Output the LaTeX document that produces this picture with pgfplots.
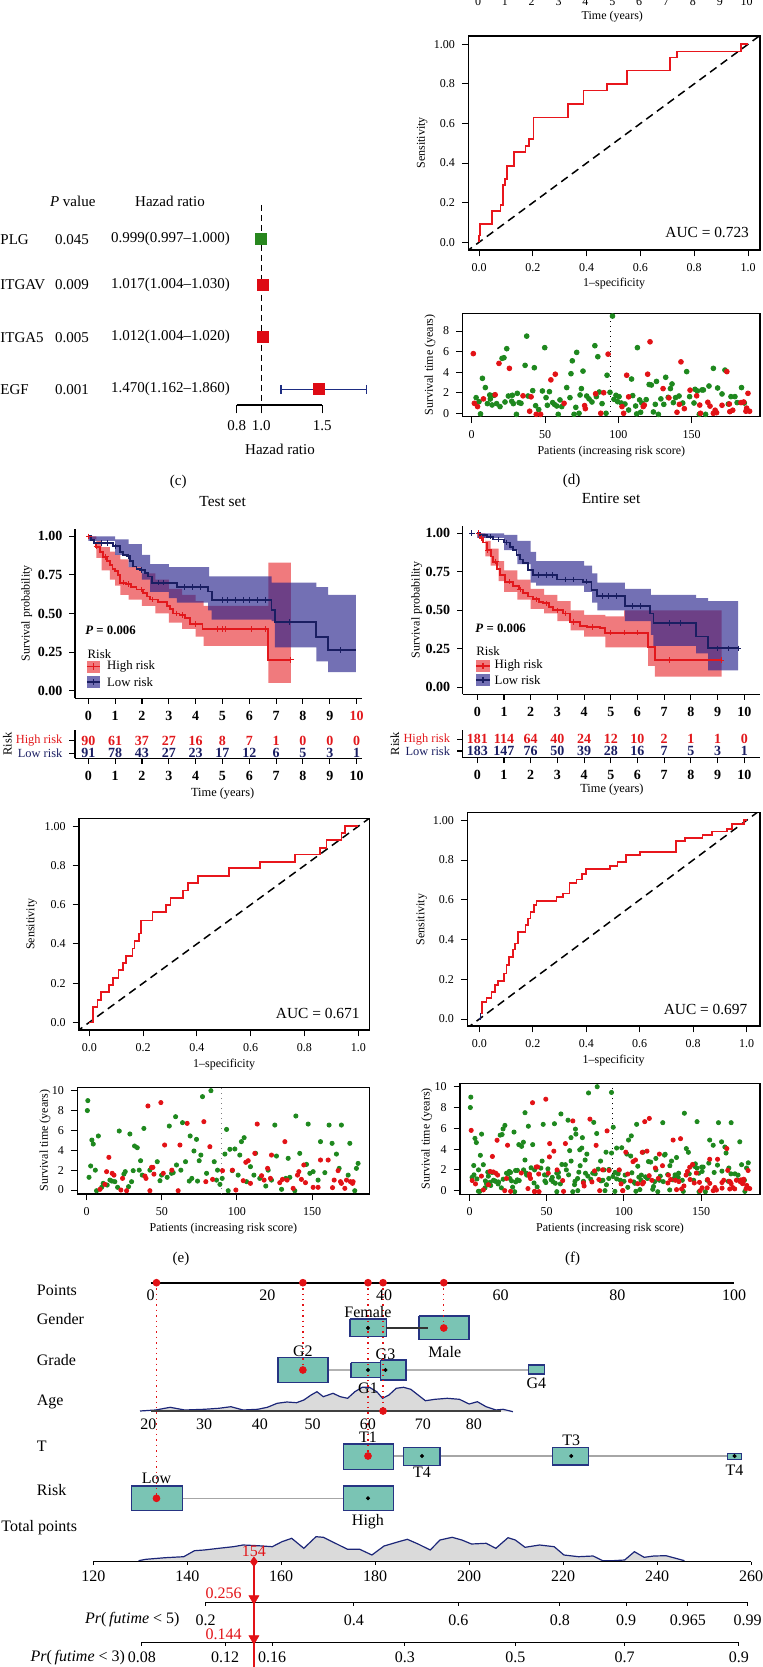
\documentclass[border=0pt]{standalone}
\usepackage{fontspec}
\setmainfont{Liberation Serif}
\usepackage{pgfplots}
\usepackage{pgfplotstable}
\pgfplotsset{compat=1.18}
\usepgfplotslibrary{fillbetween}

\definecolor{rocred}{RGB}{232,22,28}
\definecolor{kmred}{RGB}{226,24,28}
\definecolor{kmnavy}{RGB}{26,30,98}
\definecolor{bandred}{RGB}{232,50,55}
\definecolor{bandblue}{RGB}{40,35,140}
\definecolor{dred}{RGB}{226,18,22}
\definecolor{dgreen}{RGB}{30,136,30}
\definecolor{plggreen}{RGB}{40,135,30}
\definecolor{hrred}{RGB}{222,10,20}
\definecolor{hrnavy}{RGB}{30,45,130}
\definecolor{nomofill}{RGB}{122,196,180}
\definecolor{nomoedge}{RGB}{38,52,130}
\definecolor{densfill}{RGB}{218,218,218}
\definecolor{densline}{RGB}{28,38,120}

\newcommand\fs[1]{\fontsize{#1}{#1}\selectfont}
\newcommand\pxnode[4][]{\node[inner sep=0pt,#1] at ({#2*0.5pt},{(1667-#3)*0.5pt}) {#4};}

% scatter data: patient rank p, survival time t (years)
\pgfplotstableread{
p t
1.1 5.8
1.8 0.97
4 0.65
8 1.4
16 1.8
18.6 4.85
25.7 4.37
35 1.7
39.5 0.2
40.5 1.6
44 -0.1
47 -0.1
54 3.25
57 3.8
63 0.97
77 0.75
77.5 0.45
84.5 1.9
88 0
90 2.0
93 5.75
102.5 0.65
103.6 0
105.7 3.7
107 1.6
117 0.65
117.7 0.8
120 3.8
121.6 6.95
130.5 2.4
134.5 1.5
140 0.1
141.6 0.87
142.7 5.0
145 0.45
148.9 2.25
153.4 1.7
155.5 0.8
156 0
161 1.07
162.5 0.7
164.8 0
166 0.3
167 0.06
170.7 0.78
174 4.05
175.7 0.9
176 0.16
178 0.3
183.6 1.04
185.5 1.1
187 0.2
187.5 0.5
188.4 1.94
189.5 0.2
}\dR
\pgfplotstableread{
p t
3 1.52
5 1.13
6 -0.06
7.3 3.4
9.3 2.5
10.7 0.94
12.3 1.78
12.7 1.39
13.9 0.81
15.2 1.75
17 0.94
19.3 0.65
20.7 5.34
22 5.4
22.7 1.1
23.9 6.28
25 1.68
27.3 1.17
27.7 1.75
28.4 0.94
30.5 -0.1
31.1 1.94
32.3 1.04
33.6 0.97
36.4 4.66
37.5 7.5
38.4 1.68
41.6 2.2
42.7 4.43
43.6 0.74
45.7 0.36
48.2 2.17
49.8 6.38
50.7 1.52
51.6 0.78
53 2.1
55.2 1.04
56.4 0.87
58 0.71
59 -0.1
60.2 1.3
61.4 0.65
64.8 2.5
67 1.52
67.7 3.85
68.6 5.1
69.8 -0.1
71 0.58
71.6 5.92
73.2 0
73.9 1.78
74.8 2.4
75.9 4.1
78.4 1.68
80 1.4
82 1.1
84 6.57
85 1.62
86 5.5
87 2.07
88.9 0.94
91.6 0
92.3 3.7
94.3 2.04
96 9.45
97 1.36
98.4 1.75
99.5 1.13
100.5 1.62
102 1.0
104.5 0.9
107 0.32
109 3.33
109.8 1.72
111.8 0.71
112.5 -0.06
113 6.38
114.5 1.3
115.2 0.1
116 1.0
119 1.33
121 2.8
122.5 2.75
123.9 0.13
125.2 0.87
126 3.1
127.3 -0.1
129 1.4
131 0.87
132.3 3.5
134 1.55
135.5 2.4
136.6 2.85
137.5 1.04
139 1.52
141.4 1.68
143.9 1.0
146.6 4.05
148.6 1.62
151.6 1.0
152.3 2.33
153.9 2.17
155.2 -0.1
157 2.27
158 2.27
159.5 -0.1
161.8 2.65
164.8 4.37
167.7 2.46
170.7 1.88
172.7 4.2
175 0.9
176.8 1.62
179.5 1.62
181 1.04
184 2.5
185.9 1.0
}\dG
\pgfplotstableread{
p t
8.9 0.07
12.2 0.57
13.3 1.85
14.8 3.29
17 1.68
18.2 1.5
22.8 0
23.9 1.17
26.6 -0.07
38.8 1.41
39.5 1.17
40.8 8.46
42.1 -0.07
43.2 2.28
44.1 2.28
44.8 1.6
49.4 8.8
51 1.68
51.9 4.53
56.7 2.0
60.9 -0.07
62.1 4.53
66.9 6.71
78 6.88
79.3 0.84
82 4.36
83.8 1.07
90.4 1.95
97 2.0
99.3 0
104.2 0.94
105.9 2.79
107.5 2.95
109 0.67
111.9 3.69
113.5 6.64
116.4 1.44
118.1 1.0
120.4 2.18
122.3 1.17
123 3.52
128.5 0.74
130.3 1.07
131.9 4.87
133.4 1.0
137.4 0.17
140.3 1.5
141.2 1.85
142.9 1.07
144.5 2.52
145.6 0.74
150.7 0.27
154 0.27
155.6 3.02
160.7 3.02
163.6 0.24
164.7 1.0
167.3 1.95
168.9 0.84
169.5 0.67
171.8 0.17
172.9 1.0
175.5 0.84
176.9 0.67
177.3 0.84
}\eR
\pgfplotstableread{
p t
0.5 8.0
0.8 9.0
1.6 1.28
2.7 2.42
3.5 5.03
4.4 4.63
5.8 2.0
6.6 -0.07
7.8 5.44
10 0.27
11 0.67
13.7 0.5
15.5 1.0
16.8 0.9
18.8 0.84
20.6 0.27
21.7 5.94
24.8 1.6
25.7 1.85
27.9 0.34
28.8 5.64
29.9 0.84
31 1.95
31.9 4.43
33.7 4.26
35 2.0
35.9 2.95
37 1.5
38.1 6.2
42.1 2.0
47 2.85
48.8 0.94
49.9 1.5
53.6 1.28
55 6.44
56.5 1.68
57.6 1.75
59.2 7.38
59.8 2.52
62.7 2.0
63.8 6.78
65.8 2.85
68.3 0.9
68.9 5.44
70 1.17
71.4 3.93
73.1 5.1
73.8 0.9
74.9 2.95
76 3.52
77.1 9.4
79.8 1.68
82.7 10
84.9 2.85
86.4 1.0
87.1 2.0
88.7 0.57
90.2 1.17
92 3.62
93.1 6.1
94.2 -0.07
95.3 4.1
96.9 1.95
98.6 4.13
100.8 1.5
101.9 3.52
103 4.87
104.8 5.27
106.4 0.84
109 2.35
111.3 1.5
112.4 3.7
115.2 1.17
119.2 0.4
120.8 2.0
123 1.0
125.2 6.54
126.3 3.42
129.7 0.07
132.5 1.17
134.1 3.19
135.2 1.28
138.5 -0.07
139.2 7.45
141.8 3.69
146.3 2.58
147.4 6.64
148.5 1.68
150.7 1.85
154 1.0
155.6 4.87
158.5 1.75
161.3 6.54
163.3 4.7
166.2 3.62
168 2.18
169.5 6.54
174 1.5
175.1 4.7
178.4 -0.07
179.5 2.18
180.6 2.68
}\eG

\pgfplotsset{
  pxat/.style 2 args={at={({#1*0.5pt},{(1667-#2)*0.5pt})}},
  every axis/.append style={scale only axis, anchor=south west,
    /pgf/number format/assume math mode=true},
  rbase/.style={tick align=outside, major tick length=3.2pt,
    axis line style={line width=0.7pt},
    tick style={black, line width=0.45pt},
    xtick pos=bottom, ytick pos=left,
    tick label style={font=\fs{6}}, label style={font=\fs{6}},
    xlabel style={anchor=center}, ylabel style={anchor=center}},
  roc/.style={rbase,
    xtick={0,0.2,0.4,0.6,0.8,1}, xticklabels={0.0,0.2,0.4,0.6,0.8,1.0},
    ytick={0,0.2,0.4,0.6,0.8,1}, yticklabels={0.0,0.2,0.4,0.6,0.8,1.00},
    xlabel={1--specificity}, ylabel={Sensitivity}},
  scat/.style={rbase, xtick={0,50,100,150}, ytick={0,2,4,6,8,10},
    xlabel={Patients (increasing risk score)}, ylabel={Survival time (years)}},
  km/.style={axis lines=left, axis line style={-, line width=0.55pt},
    tick align=outside, major tick length=2.8pt, tick style={black, line width=0.55pt},
    xtick={0,...,10}, ytick={0,0.25,0.5,0.75,1},
    yticklabels={0.00,0.25,0.50,0.75,1.00},
    tick label style={font=\fs{7}\bfseries},
    ylabel={Survival probability}, ylabel style={font=\fs{6}, anchor=center}, clip=false},
  kmtab/.style={axis lines=left, axis line style={-, line width=0.55pt},
    tick align=outside, major tick length=2.8pt, tick style={black, line width=0.55pt},
    xtick={0,...,10}, ymin=0, ymax=1,
    xticklabel style={font=\fs{7}\bfseries}, yticklabel style={font=\fs{6.2}},
    xlabel={Time (years)}, ylabel={Risk}, label style={font=\fs{6.2}},
    xlabel style={anchor=center}, ylabel style={anchor=center}, clip=false},
  rnum/.style={draw=none, nodes near coords, point meta=explicit symbolic,
    every node near coord/.append style={anchor=center, font=\fs{7}\bfseries, text=#1}},
  cens/.style={only marks, mark=+, mark size=1.4pt, line width=0.5pt, #1},
  nbox/.style={fill=nomofill, draw=nomoedge, line width=0.6pt},
  reddot/.style={only marks, mark=*, mark size=1.7pt, dred},
  blkdot/.style={only marks, mark=*, mark size=0.8pt, black},
}

\begin{document}
\begin{tikzpicture}

% ---- cut-off bottom of panel (b)
\begin{axis}[pxat={478}{0}, width=134.35pt, height=4pt, xmin=0, xmax=10, ymin=0, ymax=1,
  hide y axis, axis x line*=bottom, x axis line style={draw=none}, xtick={0,...,10},
  major tick length=0pt,
  xticklabel style={font=\fs{6}, anchor=base, inner sep=0pt, yshift=-2.6pt},
  xlabel={Time (years)},
  xlabel style={font=\fs{6}, at={(axis description cs:0.5,0)}, anchor=center, yshift=-8.4pt}]
\addplot[draw=none] coordinates {(0,0.5)(10,0.5)};
\end{axis}

% ---- (c) forest plot
\begin{axis}[pxat={236.7}{405}, width=42.8pt, height=102.5pt,
  xmin=0.8, xmax=1.5, ymin=-405, ymax=-200, clip=false,
  hide y axis, axis x line*=bottom, x axis line style={-, line width=0.6pt},
  xtick={0.8,1.0,1.5}, xticklabels={0.8,1.0,1.5},
  tick align=outside, major tick length=4.2pt, tick style={black, line width=0.6pt},
  xticklabel style={font=\fs{7.5}},
  xlabel={Hazad ratio},
  xlabel style={font=\fs{7.5}, at={(axis description cs:0.506,-0.2146)}, anchor=center}]
\addplot[black, line width=0.5pt, dash pattern=on 3pt off 2pt] coordinates {(1,-205)(1,-405)};
\addplot[hrnavy, line width=0.7pt] coordinates {(1.162,-389.3)(1.86,-389.3)};
\addplot[hrnavy, line width=0.7pt] coordinates {(1.162,-385)(1.162,-393.6)};
\addplot[hrnavy, line width=0.7pt] coordinates {(1.86,-385)(1.86,-393.6)};
\addplot[only marks, mark=square*, mark size=2.7pt, plggreen] coordinates {(0.999,-239.3)};
\addplot[only marks, mark=square*, mark size=2.7pt, hrred]
  coordinates {(1.017,-285)(1.012,-337.3)(1.47,-389.3)};
\begin{scope}[font=\fs{7.5}]
\node at (axis cs:-0.541,-201) {\textit{P} value};
\node at (axis cs:0.2546,-201) {Hazad ratio};
\node[anchor=west, inner sep=0pt] at (axis cs:-1.1354,-239.3) {PLG};
\node[anchor=west, inner sep=0pt] at (axis cs:-1.1354,-285) {ITGAV};
\node[anchor=west, inner sep=0pt] at (axis cs:-1.1354,-337.3) {ITGA5};
\node[anchor=west, inner sep=0pt] at (axis cs:-1.1354,-389.3) {EGF};
\node at (axis cs:-0.5467,-239.3) {0.045};
\node at (axis cs:-0.5467,-285) {0.009};
\node at (axis cs:-0.5467,-337.3) {0.005};
\node at (axis cs:-0.5467,-389.3) {0.001};
\node at (axis cs:0.2587,-239.3) {0.999(0.997--1.000)};
\node at (axis cs:0.2587,-285) {1.017(1.004--1.030)};
\node at (axis cs:0.2587,-337.3) {1.012(1.004--1.020)};
\node at (axis cs:0.2587,-389.3) {1.470(1.162--1.860)};
\end{scope}
\end{axis}

% ---- (d) ROC
\begin{axis}[roc, pxat={468.3}{250}, width=145.85pt, height=107pt,
  xmin=-0.0398, xmax=1.0446, ymin=-0.0389, ymax=1.042,
  xlabel style={at={(axis description cs:0.5,-0.1556)}},
  ylabel style={at={(axis description cs:-0.1577,0.5)}}]
\addplot[black, line width=0.75pt, dash pattern=on 4pt off 2.6pt] coordinates {(-0.05,-0.05)(1.06,1.06)};
\addplot[rocred, line width=0.85pt] coordinates {(0,0)(0,0.034)(0.004,0.034)(0.004,0.093)(0.047,0.093)(0.047,0.158)(0.08,0.158)(0.08,0.19)(0.088,0.19)(0.088,0.288)(0.097,0.288)(0.097,0.32)(0.105,0.32)(0.105,0.387)(0.13,0.387)(0.13,0.455)(0.173,0.455)(0.173,0.488)(0.186,0.488)(0.186,0.52)(0.203,0.52)(0.203,0.63)(0.33,0.63)(0.33,0.697)(0.388,0.697)(0.388,0.766)(0.475,0.766)(0.475,0.8)(0.551,0.8)(0.551,0.867)(0.71,0.867)(0.71,0.933)(0.735,0.933)(0.735,0.963)(0.973,0.963)(0.973,1)(1,1)};
\node[anchor=east, font=\fs{7.7}, inner sep=0pt] at (axis cs:1.005,0.052) {AUC = 0.723};
\end{axis}

% ---- (d) scatter
\begin{axis}[scat, pxat={462.7}{416.7}, width=148.65pt, height=51.7pt,
  xmin=-6.14, xmax=196.6, ymin=-0.33, ymax=9.72,
  xlabel style={at={(axis description cs:0.5,-0.3385)}},
  ylabel style={at={(axis description cs:-0.11,0.5)}}]
\addplot[black, dotted, line width=0.5pt] coordinates {(94.5,-0.33)(94.5,9.72)};
\addplot[only marks, mark=*, mark size=1.2pt, dgreen] table[x=p,y=t] {\dG};
\addplot[only marks, mark=*, mark size=1.2pt, dred] table[x=p,y=t] {\dR};
\end{axis}

% ---- Test set KM
\begin{axis}[km, pxat={75}{698.3}, width=143.35pt, height=84.85pt,
  xmin=-0.4955, xmax=10.19, ymin=-0.0494, ymax=1.05,
  xticklabels={0,1,2,3,4,5,6,7,8,9,\textcolor{kmred}{10}},
  title={Test set}, title style={at={(axis description cs:0.515,1.09)}, anchor=center, font=\fs{7.7}},
  ylabel style={at={(axis description cs:-0.1685,0.5)}}]
\addplot[name path=tHu, draw=none, const plot] coordinates {(0,1)(0.3,0.97)(0.5,0.93)(0.8,0.9)(1,0.88)(1.2,0.85)(1.5,0.80)(2,0.76)(2.5,0.72)(3,0.66)(3.5,0.62)(4,0.58)(4.3,0.55)(6.71,0.83)(7.55,0.83)};
\addplot[name path=tHl, draw=none, const plot] coordinates {(0,0.98)(0.3,0.86)(0.5,0.78)(0.8,0.72)(1,0.68)(1.2,0.62)(1.5,0.59)(2,0.55)(2.5,0.50)(3,0.44)(3.5,0.40)(4,0.35)(4.3,0.29)(6.71,0.05)(7.55,0.05)};
\addplot[bandred, fill opacity=0.65] fill between[of=tHu and tHl];
\addplot[name path=tLu, draw=none, const plot] coordinates {(0,1)(1,0.98)(1.5,0.95)(2,0.88)(2.3,0.82)(3,0.80)(4.5,0.74)(6.83,0.70)(8.5,0.67)(8.94,0.62)(9.97,0.62)};
\addplot[name path=tLl, draw=none, const plot] coordinates {(0,0.97)(1,0.88)(1.5,0.80)(2,0.72)(2.3,0.64)(3,0.60)(3.3,0.57)(4.47,0.52)(4.6,0.46)(6.83,0.45)(6.95,0.28)(8.5,0.19)(8.94,0.12)(9.97,0.12)};
\addplot[bandblue, fill opacity=0.65] fill between[of=tLu and tLl];
\addplot[kmred, line width=0.9pt, const plot] coordinates {(0,1.0)(0.1,0.978)(0.2,0.956)(0.3,0.933)(0.45,0.9)(0.55,0.867)(0.7,0.84)(0.8,0.815)(0.9,0.79)(1.0,0.773)(1.1,0.75)(1.18,0.70)(1.4,0.69)(1.6,0.67)(1.8,0.655)(2.05,0.632)(2.2,0.61)(2.3,0.59)(2.6,0.575)(2.92,0.55)(3.05,0.53)(3.17,0.50)(3.4,0.49)(3.6,0.47)(3.79,0.43)(4.26,0.40)(6.71,0.20)(7.55,0.20)};
\addplot[kmnavy, line width=0.9pt, const plot] coordinates {(0,1.0)(0.1,0.978)(0.2,0.957)(0.93,0.935)(1.18,0.90)(1.3,0.88)(1.43,0.87)(1.55,0.84)(1.68,0.805)(1.8,0.79)(1.93,0.78)(2.1,0.76)(2.24,0.74)(2.36,0.70)(3.3,0.67)(4.47,0.643)(4.6,0.589)(6.83,0.524)(6.95,0.444)(8.5,0.35)(8.94,0.264)(9.97,0.264)};
\addplot[cens=kmred] coordinates {(0.02,1.0)(0.3,0.933)(0.65,0.867)(1.3,0.70)(1.5,0.69)(2.0,0.655)(2.4,0.59)(3.3,0.50)(3.5,0.49)(4.0,0.43)(4.8,0.40)(5.0,0.40)(5.1,0.40)(6.1,0.40)(6.6,0.40)(7.55,0.20)};
\addplot[cens=kmnavy] coordinates {(0.5,0.957)(0.7,0.957)(1.0,0.935)(1.5,0.87)(2.0,0.78)(2.6,0.70)(2.8,0.70)(3.6,0.67)(3.9,0.67)(4.2,0.67)(5.0,0.589)(5.2,0.589)(5.5,0.589)(5.8,0.589)(6.0,0.589)(6.3,0.589)(6.6,0.589)(7.5,0.444)(9.4,0.264)};
\addplot[fill=bandred, fill opacity=0.65, draw=none] coordinates {(-0.05,0.117)(0.436,0.117)(0.436,0.195)(-0.05,0.195)};
\addplot[kmred, line width=0.9pt, mark=+, mark size=1.6pt, mark indices={2}] coordinates {(-0.05,0.156)(0.193,0.156)(0.436,0.156)};
\addplot[fill=bandblue, fill opacity=0.65, draw=none] coordinates {(-0.05,0.0155)(0.436,0.0155)(0.436,0.0935)(-0.05,0.0935)};
\addplot[kmnavy, line width=0.9pt, mark=+, mark size=1.6pt, mark indices={2}] coordinates {(-0.05,0.0545)(0.193,0.0545)(0.436,0.0545)};
\node[anchor=west, inner sep=0pt, font=\fs{6.4}\bfseries] at (axis cs:-0.123,0.388) {\textit{P} = 0.006};
\node[anchor=west, inner sep=0pt, font=\fs{6.4}] at (axis cs:-0.037,0.238) {Risk};
\node[anchor=west, inner sep=0pt, font=\fs{6.4}] at (axis cs:0.686,0.156) {High risk};
\node[anchor=west, inner sep=0pt, font=\fs{6.4}] at (axis cs:0.686,0.0545) {Low risk};
\end{axis}

% ---- Test set risk table
\begin{axis}[kmtab, pxat={75}{758.3}, width=143.35pt, height=14.15pt,
  xmin=-0.4955, xmax=10.19,
  ytick={0.177,0.622}, yticklabels={\textcolor{kmnavy}{Low risk},\textcolor{kmred}{High risk}},
  xlabel style={at={(axis description cs:0.515,-1.261)}},
  ylabel style={at={(axis description cs:-0.236,0.5)}}]
\addplot[rnum=kmred] coordinates {(0,0.622)[90] (1,0.622)[61] (2,0.622)[37] (3,0.622)[27] (4,0.622)[16] (5,0.622)[8] (6,0.622)[7] (7,0.622)[1] (8,0.622)[0] (9,0.622)[0] (10,0.622)[0]};
\addplot[rnum=kmnavy] coordinates {(0,0.177)[91] (1,0.177)[78] (2,0.177)[43] (3,0.177)[27] (4,0.177)[23] (5,0.177)[17] (6,0.177)[12] (7,0.177)[6] (8,0.177)[5] (9,0.177)[3] (10,0.177)[1]};
\end{axis}

% ---- Entire set KM
\begin{axis}[km, pxat={462.7}{694.3}, width=148.65pt, height=84.35pt,
  xmin=-0.547, xmax=10.59, ymin=-0.045, ymax=1.05,
  title={Entire set}, title style={at={(axis description cs:0.499,1.0925)}, anchor=center, font=\fs{7.7}},
  ylabel style={at={(axis description cs:-0.1547,0.5)}}]
\addplot[name path=eHu, draw=none, const plot] coordinates {(0,1)(0.3,0.95)(0.5,0.90)(0.8,0.82)(1,0.76)(1.5,0.70)(2,0.64)(2.5,0.60)(3,0.56)(3.5,0.50)(4,0.47)(4.8,0.46)(5.5,0.50)(9.15,0.50)};
\addplot[name path=eHl, draw=none, const plot] coordinates {(0,0.97)(0.3,0.85)(0.5,0.79)(0.8,0.69)(1,0.62)(1.5,0.57)(2,0.51)(2.5,0.48)(3,0.43)(3.5,0.37)(4,0.33)(4.8,0.26)(6.4,0.14)(6.65,0.07)(9.15,0.07)};
\addplot[bandred, fill opacity=0.65] fill between[of=eHu and eHl];
\addplot[name path=eLu, draw=none, const plot] coordinates {(0,1)(1,0.99)(1.5,0.95)(2,0.88)(2.2,0.82)(4,0.79)(4.3,0.74)(4.5,0.68)(5.53,0.64)(6.5,0.60)(8.2,0.58)(8.65,0.56)(9.77,0.56)};
\addplot[name path=eLl, draw=none, const plot] coordinates {(0,0.97)(1,0.89)(1.5,0.80)(2,0.68)(2.2,0.66)(4,0.62)(4.3,0.55)(4.5,0.50)(5.53,0.43)(6.5,0.34)(6.6,0.27)(8.2,0.22)(8.65,0.11)(9.77,0.11)};
\addplot[bandblue, fill opacity=0.65] fill between[of=eLu and eLl];
\addplot[kmred, line width=0.9pt, const plot] coordinates {(0,1)(0.1,0.97)(0.2,0.94)(0.35,0.89)(0.5,0.85)(0.6,0.816)(0.75,0.77)(0.85,0.73)(1.04,0.686)(1.35,0.66)(1.55,0.635)(1.72,0.61)(1.9,0.59)(2.1,0.571)(2.3,0.555)(2.47,0.545)(2.7,0.52)(2.85,0.50)(3.22,0.48)(3.47,0.426)(3.85,0.398)(4.1,0.39)(4.6,0.383)(4.78,0.355)(6.4,0.264)(6.65,0.177)(9.15,0.177)};
\addplot[kmnavy, line width=0.9pt, const plot] coordinates {(0,1)(0.1,0.99)(0.35,0.978)(0.6,0.96)(1,0.94)(1.22,0.913)(1.35,0.89)(1.47,0.86)(1.6,0.83)(1.72,0.805)(1.9,0.76)(2.1,0.73)(3.0,0.70)(3.97,0.686)(4.28,0.632)(4.47,0.593)(5.53,0.528)(6.47,0.48)(6.6,0.416)(8.2,0.33)(8.65,0.253)(9.77,0.253)};
\addplot[cens=kmred] coordinates {(0.05,1.0)(0.15,0.97)(0.4,0.89)(0.7,0.816)(1.2,0.686)(1.6,0.635)(2.2,0.571)(2.6,0.545)(3.0,0.50)(3.3,0.48)(3.6,0.426)(4.3,0.39)(5.0,0.355)(5.5,0.355)(6.0,0.355)(7.2,0.177)(9.15,0.177)};
\addplot[cens=kmnavy] coordinates {(-0.2,1.0)(0.5,0.978)(0.8,0.96)(1.1,0.94)(2.3,0.73)(2.6,0.73)(2.8,0.73)(3.3,0.70)(3.6,0.70)(4.1,0.686)(4.7,0.593)(4.9,0.593)(5.2,0.593)(5.8,0.528)(6.1,0.528)(7.2,0.416)(7.6,0.416)(9.0,0.253)(9.4,0.253)(9.77,0.253)};
\addplot[fill=bandred, fill opacity=0.65, draw=none] coordinates {(-0.049,0.101)(0.475,0.101)(0.475,0.179)(-0.049,0.179)};
\addplot[kmred, line width=0.9pt, mark=+, mark size=1.6pt, mark indices={2}] coordinates {(-0.049,0.14)(0.213,0.14)(0.475,0.14)};
\addplot[fill=bandblue, fill opacity=0.65, draw=none] coordinates {(-0.049,0.008)(0.475,0.008)(0.475,0.086)(-0.049,0.086)};
\addplot[kmnavy, line width=0.9pt, mark=+, mark size=1.6pt, mark indices={2}] coordinates {(-0.049,0.047)(0.213,0.047)(0.475,0.047)};
\node[anchor=west, inner sep=0pt, font=\fs{6.4}\bfseries] at (axis cs:-0.086,0.383) {\textit{P} = 0.006};
\node[anchor=west, inner sep=0pt, font=\fs{6.4}] at (axis cs:-0.049,0.238) {Risk};
\node[anchor=west, inner sep=0pt, font=\fs{6.4}] at (axis cs:0.637,0.14) {High risk};
\node[anchor=west, inner sep=0pt, font=\fs{6.4}] at (axis cs:0.637,0.047) {Low risk};
\end{axis}

% ---- Entire set risk table
\begin{axis}[kmtab, pxat={462.7}{757.7}, width=148.65pt, height=13.85pt,
  xmin=-0.547, xmax=10.59,
  ytick={0.242,0.664}, yticklabels={\textcolor{kmnavy}{Low risk},\textcolor{kmred}{High risk}},
  xlabel style={at={(axis description cs:0.502,-1.166)}},
  ylabel style={at={(axis description cs:-0.2277,0.5)}}]
\addplot[rnum=kmred] coordinates {(0,0.664)[181] (1,0.664)[114] (2,0.664)[64] (3,0.664)[40] (4,0.664)[24] (5,0.664)[12] (6,0.664)[10] (7,0.664)[2] (8,0.664)[1] (9,0.664)[1] (10,0.664)[0]};
\addplot[rnum=kmnavy] coordinates {(0,0.242)[183] (1,0.242)[147] (2,0.242)[76] (3,0.242)[50] (4,0.242)[39] (5,0.242)[28] (6,0.242)[16] (7,0.242)[7] (8,0.242)[5] (9,0.242)[3] (10,0.242)[1]};
\end{axis}

% ---- (e) ROC
\begin{axis}[roc, pxat={79}{1030}, width=145.15pt, height=105.85pt,
  xmin=-0.0383, xmax=1.041, ymin=-0.039, ymax=1.041,
  xlabel style={at={(axis description cs:0.5,-0.162)}},
  ylabel style={at={(axis description cs:-0.163,0.5)}}]
\addplot[black, line width=0.75pt, dash pattern=on 4pt off 2.6pt] coordinates {(-0.05,-0.05)(1.06,1.06)};
\addplot[rocred, line width=0.85pt] coordinates {(0,0)(0.015,0)(0.015,0.08)(0.030,0.08)(0.030,0.114)(0.043,0.114)(0.043,0.156)(0.073,0.156)(0.073,0.19)(0.089,0.19)(0.089,0.227)(0.109,0.227)(0.109,0.266)(0.124,0.266)(0.124,0.303)(0.136,0.303)(0.136,0.337)(0.161,0.337)(0.161,0.376)(0.168,0.376)(0.168,0.414)(0.186,0.414)(0.186,0.453)(0.191,0.453)(0.191,0.52)(0.235,0.52)(0.235,0.563)(0.284,0.563)(0.284,0.6)(0.302,0.6)(0.302,0.634)(0.349,0.634)(0.349,0.673)(0.368,0.673)(0.368,0.71)(0.403,0.71)(0.403,0.746)(0.52,0.746)(0.52,0.786)(0.635,0.786)(0.635,0.817)(0.765,0.817)(0.765,0.857)(0.857,0.857)(0.857,0.89)(0.882,0.89)(0.882,0.93)(0.938,0.93)(0.938,0.967)(0.951,0.967)(0.951,1)(1,1)};
\node[anchor=east, font=\fs{7.7}, inner sep=0pt] at (axis cs:1.006,0.046) {AUC = 0.671};
\end{axis}

% ---- (f) ROC
\begin{axis}[roc, pxat={467.3}{1026}, width=146.35pt, height=106.65pt,
  xmin=-0.0449, xmax=1.0498, ymin=-0.035, ymax=1.038,
  xlabel style={at={(axis description cs:0.5,-0.1627)}},
  ylabel style={at={(axis description cs:-0.1558,0.5)}}]
\addplot[black, line width=0.75pt, dash pattern=on 4pt off 2.6pt] coordinates {(-0.05,-0.05)(1.06,1.06)};
\addplot[kmnavy, line width=0.85pt] coordinates {(0,0)(0.005,0)(0.005,0.03)};
\addplot[rocred, line width=0.85pt] coordinates {(0.005,0.03)(0.009,0.03)(0.009,0.087)(0.027,0.087)(0.027,0.107)(0.046,0.107)(0.046,0.137)(0.059,0.137)(0.059,0.171)(0.071,0.171)(0.071,0.193)(0.092,0.193)(0.092,0.229)(0.102,0.229)(0.102,0.271)(0.112,0.271)(0.112,0.313)(0.125,0.313)(0.125,0.35)(0.133,0.35)(0.133,0.38)(0.146,0.38)(0.146,0.439)(0.173,0.439)(0.173,0.472)(0.183,0.472)(0.183,0.506)(0.192,0.506)(0.192,0.539)(0.204,0.539)(0.204,0.573)(0.214,0.573)(0.214,0.595)(0.289,0.595)(0.289,0.615)(0.312,0.615)(0.312,0.631)(0.337,0.631)(0.337,0.685)(0.364,0.685)(0.364,0.702)(0.383,0.702)(0.383,0.729)(0.399,0.729)(0.399,0.754)(0.489,0.754)(0.489,0.77)(0.517,0.77)(0.517,0.79)(0.549,0.79)(0.549,0.824)(0.601,0.824)(0.601,0.84)(0.735,0.84)(0.735,0.894)(0.77,0.894)(0.77,0.91)(0.835,0.91)(0.835,0.927)(0.87,0.927)(0.87,0.944)(0.926,0.944)(0.926,0.956)(0.944,0.956)(0.944,0.98)(0.99,0.98)(0.99,1)(1,1)};
\node[anchor=east, font=\fs{7.7}, inner sep=0pt] at (axis cs:1.004,0.049) {AUC = 0.697};
\end{axis}

% ---- (e) scatter
\begin{axis}[scat, pxat={77.3}{1194}, width=146.1pt, height=53.35pt,
  xmin=-6.2, xmax=188.2, ymin=-0.4, ymax=10.34,
  xlabel style={at={(axis description cs:0.5,-0.3215)}},
  ylabel style={at={(axis description cs:-0.1105,0.5)}}]
\addplot[gray, dotted, line width=0.5pt] coordinates {(89.6,-0.4)(89.6,10.34)};
\addplot[only marks, mark=*, mark size=1.05pt, dgreen] table[x=p,y=t] {\eG};
\addplot[only marks, mark=*, mark size=1.05pt, dred] table[x=p,y=t] {\eR};
\end{axis}

% ---- (f) scatter (training + test patients)
\begin{axis}[scat, pxat={460}{1194.3}, width=150pt, height=55.5pt,
  xmin=-6.2, xmax=188.2, ymin=-0.35, ymax=10.33,
  xlabel style={at={(axis description cs:0.5,-0.306)}},
  ylabel style={at={(axis description cs:-0.111,0.5)}}]
\addplot[black, dotted, line width=0.5pt] coordinates {(92.4,-0.35)(92.4,10.33)};
\addplot[only marks, mark=*, mark size=1.05pt, dgreen] table[x expr=\thisrow{p}*0.958, y=t] {\dG};
\addplot[only marks, mark=*, mark size=1.05pt, dgreen] table[x=p,y=t] {\eG};
\addplot[only marks, mark=*, mark size=1.05pt, dred] table[x expr=\thisrow{p}*0.958, y=t] {\dR};
\addplot[only marks, mark=*, mark size=1.05pt, dred] table[x=p,y=t] {\eR};
\end{axis}

% ---- nomogram (x in points units, y in picture rows)
\begin{axis}[pxat={0}{1667}, width=381pt, height=198.5pt,
  xmin=-25.83, xmax=104.79, ymin=1270, ymax=1667, y dir=reverse, hide axis, clip=false]
% connecting lines
\addplot[gray!60, line width=0.8pt] coordinates {(30.4,1370)(64.74,1370)};
\addplot[gray!70, line width=0.8pt] coordinates {(41.67,1456)(98.92,1456)};
\addplot[gray!70, line width=0.8pt] coordinates {(5.5,1498.3)(33,1498.3)};
% boxes
\addplot[nbox] coordinates {(34.15,1319)(40.41,1319)(40.41,1336.7)(34.15,1336.7)(34.15,1319)};
\addplot[nbox] coordinates {(45.99,1316)(54.56,1316)(54.56,1339.3)(45.99,1339.3)(45.99,1316)};
\addplot[gray!40!black, line width=0.9pt] coordinates {(40.41,1328)(47.56,1328)};
\addplot[nbox] coordinates {(21.82,1357.3)(30.4,1357.3)(30.4,1382.7)(21.82,1382.7)(21.82,1357.3)};
\addplot[nbox] coordinates {(34.33,1362.7)(39.99,1362.7)(39.99,1377.3)(34.33,1377.3)(34.33,1362.7)};
\addplot[nbox] coordinates {(39.42,1360)(43.76,1360)(43.76,1380)(39.42,1380)(39.42,1360)};
\addplot[nbox] coordinates {(64.74,1365)(67.5,1365)(67.5,1374)(64.74,1374)(64.74,1365)};
\addplot[nbox] coordinates {(33,1444)(41.67,1444)(41.67,1469.3)(33,1469.3)(33,1444)};
\addplot[nbox] coordinates {(43.33,1447.3)(49.59,1447.3)(49.59,1465.3)(43.33,1465.3)(43.33,1447.3)};
\addplot[nbox] coordinates {(68.9,1447.3)(75.08,1447.3)(75.08,1465)(68.9,1465)(68.9,1447.3)};
\addplot[nbox] coordinates {(98.92,1453.3)(101.25,1453.3)(101.25,1459.3)(98.92,1459.3)(98.92,1453.3)};
\addplot[nbox] coordinates {(-3.33,1486)(5.5,1486)(5.5,1510.7)(-3.33,1510.7)(-3.33,1486)};
\addplot[nbox] coordinates {(33,1486)(41.67,1486)(41.67,1510.7)(33,1510.7)(33,1486)};
% age density
\addplot[fill=densfill, draw=densline, line width=0.6pt] coordinates {(-1.83,1411)(0.84,1410)(3.34,1407.3)(5.84,1410)(9.17,1409.3)(11.67,1408.3)(13.75,1406.7)(15.84,1410)(18.34,1409.3)(20,1407.3)(21.67,1403.3)(23.34,1402)(25,1402.7)(26.25,1400)(27.5,1395)(28.5,1391.7)(29.59,1396.7)(31.25,1393.3)(32.5,1396.7)(33.75,1398.3)(35,1391.7)(36.25,1387.3)(37.5,1387.3)(38.75,1391.7)(39.75,1398.3)(40.84,1395)(42.09,1388.3)(43.34,1387.3)(44.59,1389.3)(45.84,1395)(47.09,1400.7)(48.75,1399.3)(50.84,1398.3)(52.92,1399.3)(54.59,1404)(56,1401.7)(57.5,1406.7)(59.17,1410)(60.42,1409.3)(62.09,1411.7)};
\addplot[gray!50!black, line width=1.3pt] coordinates {(0,1411)(60,1411)};
% total points density
\addplot[fill=densfill, draw=densline, line width=0.6pt] coordinates {(-2.08,1560.7)(-0.83,1559.3)(2.5,1557.7)(5.67,1556.7)(7.5,1550.7)(9.17,1550)(11.67,1548.3)(14.17,1546.7)(15.84,1545)(18.34,1545.7)(20.84,1546.7)(22.5,1541.7)(24.17,1538.3)(26.25,1548.3)(28.34,1536.7)(29.59,1537.3)(31.67,1543.3)(33.75,1549.3)(35.84,1549.3)(37.92,1555)(40,1546)(42.5,1541.7)(44,1539.3)(45.84,1544)(47.92,1550)(49.59,1540)(51.67,1537.3)(53.34,1540)(55,1544)(57.5,1543.3)(59.17,1548.3)(61.25,1537.7)(62.5,1540)(64.17,1547.3)(66.67,1545)(69.17,1546.7)(70.84,1555)(73.34,1556.7)(75.84,1556)(77.5,1560.7)(79.17,1560.7)(81.25,1560)(82.92,1551.7)(84.59,1557.3)(86.25,1556)(88.34,1555.7)(90,1558.3)(91.5,1560.7)};
% scales
\addplot[black, line width=0.8pt] coordinates {(0,1282.7)(100,1282.7)};
\addplot[black, line width=0.6pt] coordinates {(-9.84,1561.7)(102.92,1561.7)};
\addplot[black, line width=0.6pt] coordinates {(9.41,1602.3)(102.33,1602.3)};
\addplot[black, line width=0.6pt] coordinates {(-1.49,1642.3)(100.84,1642.3)};
\addplot[black, line width=0.5pt, unbounded coords=jump] coordinates {(-9.84,1561.7)(-9.84,1565)(nan,nan)(6.27,1561.7)(6.27,1565)(nan,nan)(22.38,1561.7)(22.38,1565)(nan,nan)(38.48,1561.7)(38.48,1565)(nan,nan)(54.59,1561.7)(54.59,1565)(nan,nan)(70.7,1561.7)(70.7,1565)(nan,nan)(86.81,1561.7)(86.81,1565)(nan,nan)(102.92,1561.7)(102.92,1565)};
\addplot[black, line width=0.5pt, unbounded coords=jump] coordinates {(9.41,1602.3)(9.41,1605.5)(nan,nan)(34.85,1602.3)(34.85,1605.5)(nan,nan)(52.74,1602.3)(52.74,1605.5)(nan,nan)(70.16,1602.3)(70.16,1605.5)(nan,nan)(81.5,1602.3)(81.5,1605.5)(nan,nan)(92.1,1602.3)(92.1,1605.5)(nan,nan)(102.33,1602.3)(102.33,1605.5)};
\addplot[black, line width=0.5pt, unbounded coords=jump] coordinates {(-1.49,1642.3)(-1.49,1645.5)(nan,nan)(12.74,1642.3)(12.74,1645.5)(nan,nan)(20.83,1642.3)(20.83,1645.5)(nan,nan)(43.59,1642.3)(43.59,1645.5)(nan,nan)(62.5,1642.3)(62.5,1645.5)(nan,nan)(81.25,1642.3)(81.25,1645.5)(nan,nan)(100.84,1642.3)(100.84,1645.5)};
% red guide lines
\addplot[dred, dotted, line width=0.7pt] coordinates {(0.99,1282.7)(0.99,1498.3)};
\addplot[dred, dotted, line width=0.7pt] coordinates {(26.09,1282.7)(26.09,1370)};
\addplot[dred, dotted, line width=0.7pt] coordinates {(37.25,1282.7)(37.25,1456)};
\addplot[dred, dotted, line width=0.7pt] coordinates {(39.83,1282.7)(39.83,1411)};
\addplot[dred, dotted, line width=0.7pt] coordinates {(50.24,1282.7)(50.24,1328)};
\addplot[dred, line width=0.8pt] coordinates {(17.7,1561.7)(17.7,1667)};
% dots and markers
\addplot[blkdot] coordinates {(37.25,1328)(37.25,1370)(40.25,1370)(46.5,1456)(72.08,1456)(100.09,1456)(37.25,1498.3)};
\addplot[reddot] coordinates {(0.99,1282.7)(26.09,1282.7)(37.25,1282.7)(39.83,1282.7)(50.24,1282.7)(50.24,1328)(26.09,1370)(39.83,1411)(37.25,1456)(0.99,1498.3)};
\addplot[only marks, mark=diamond*, mark size=2.3pt, dred] coordinates {(17.7,1561.7)};
\addplot[only marks, mark=triangle*, mark size=2.8pt, mark options={rotate=180}, dred] coordinates {(17.7,1598.5)(17.7,1638.5)};
% text
\begin{scope}[font=\fs{8}]
\node[anchor=west, inner sep=0pt] at (axis cs:-19.57,1290) {Points};
\node[anchor=west, inner sep=0pt] at (axis cs:-19.57,1319) {Gender};
\node[anchor=west, inner sep=0pt] at (axis cs:-19.57,1360) {Grade};
\node[anchor=west, inner sep=0pt] at (axis cs:-19.57,1401.7) {Age};
\node[anchor=west, inner sep=0pt] at (axis cs:-19.57,1446) {T};
\node[anchor=west, inner sep=0pt] at (axis cs:-19.57,1490) {Risk};
\node[anchor=west, inner sep=0pt] at (axis cs:-25.66,1527.3) {Total points};
\node at (axis cs:0,1295) {0};
\node at (axis cs:20,1295) {20};
\node at (axis cs:40,1295) {40};
\node at (axis cs:60,1295) {60};
\node at (axis cs:80,1295) {80};
\node at (axis cs:100,1295) {100};
\node at (axis cs:37.25,1312) {Female};
\node at (axis cs:50.4,1351.7) {Male};
\node at (axis cs:26.09,1351.7) {G2};
\node at (axis cs:40.25,1354) {G3};
\node at (axis cs:37.25,1388) {G1};
\node at (axis cs:66.1,1383.3) {G4};
\node at (axis cs:-0.41,1424) {20};
\node at (axis cs:9.17,1424) {30};
\node at (axis cs:18.73,1424) {40};
\node at (axis cs:27.75,1424) {50};
\node at (axis cs:37.25,1424) {60};
\node at (axis cs:46.67,1424) {70};
\node at (axis cs:55.41,1424) {80};
\node at (axis cs:37.25,1437.3) {T1};
\node at (axis cs:46.5,1472.7) {T4};
\node at (axis cs:72.08,1440.7) {T3};
\node at (axis cs:100.09,1470) {T4};
\node at (axis cs:0.99,1478.3) {Low};
\node at (axis cs:37.25,1521.7) {High};
\node at (axis cs:-9.84,1576.7) {120};
\node at (axis cs:6.27,1576.7) {140};
\node at (axis cs:22.38,1576.7) {160};
\node at (axis cs:38.48,1576.7) {180};
\node at (axis cs:54.59,1576.7) {200};
\node at (axis cs:70.7,1576.7) {220};
\node at (axis cs:86.81,1576.7) {240};
\node at (axis cs:102.92,1576.7) {260};
\node[text=dred] at (axis cs:17.7,1551.7) {154};
\node[text=dred] at (axis cs:12.5,1593.3) {0.256};
\node[text=dred] at (axis cs:12.5,1634) {0.144};
\node[anchor=east, inner sep=0pt] at (axis cs:5.02,1620) {\textit{Pr}(\,\textit{futime} < 5)};
\node at (axis cs:9.41,1620) {0.2};
\node at (axis cs:34.85,1620) {0.4};
\node at (axis cs:52.74,1620) {0.6};
\node at (axis cs:70.16,1620) {0.8};
\node at (axis cs:81.5,1620) {0.9};
\node at (axis cs:92.1,1620) {0.965};
\node at (axis cs:102.33,1620) {0.99};
\node[anchor=east, inner sep=0pt] at (axis cs:-4.34,1657.7) {\textit{Pr}(\,\textit{futime} < 3)};
\node at (axis cs:-1.49,1657.7) {0.08};
\node at (axis cs:12.74,1657.7) {0.12};
\node at (axis cs:20.83,1657.7) {0.16};
\node at (axis cs:43.59,1657.7) {0.3};
\node at (axis cs:62.5,1657.7) {0.5};
\node at (axis cs:81.25,1657.7) {0.7};
\node at (axis cs:100.84,1657.7) {0.9};
\end{scope}
\end{axis}

% panel letters
\pxnode[font=\fs{7.5}]{178.3}{481.7}{(c)}
\pxnode[font=\fs{7.5}]{571.7}{480.7}{(d)}
\pxnode[font=\fs{7.5}]{181}{1259.3}{(e)}
\pxnode[font=\fs{7.5}]{572.7}{1259.3}{(f)}

\pgfresetboundingbox
\path[use as bounding box] (0,0) rectangle (381pt,833.5pt);
\end{tikzpicture}
\end{document}
